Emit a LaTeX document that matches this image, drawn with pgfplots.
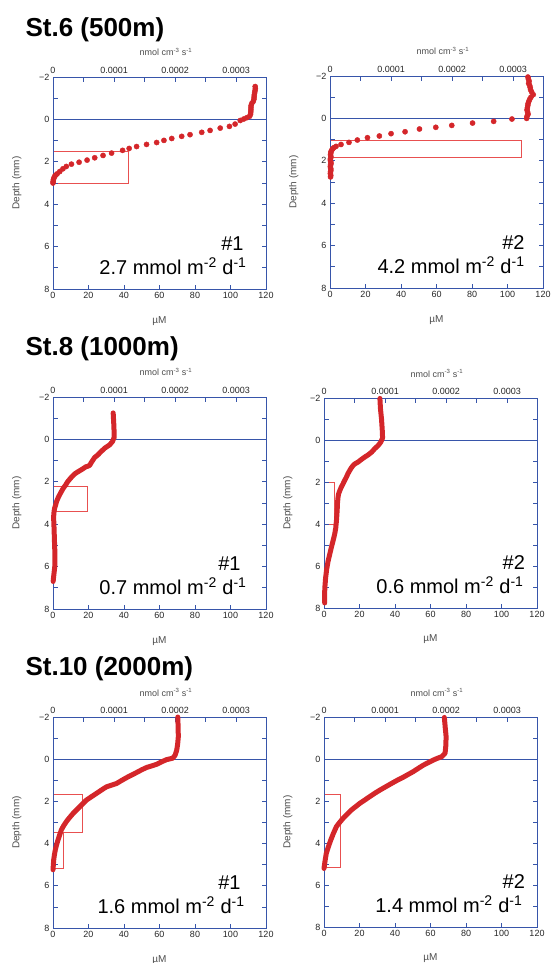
\documentclass[border=0pt]{standalone}
\usepackage{fontspec}
\setmainfont{Liberation Sans}
\usepackage{pgfplots}
\pgfplotsset{compat=1.18}

\definecolor{axisblue}{RGB}{55,85,170}
\definecolor{dotred}{RGB}{212,38,42}
\definecolor{boxred}{RGB}{232,80,80}

\newcommand{\ticks}{\fontsize{9}{10}\selectfont}
\newcommand{\lab}{\fontsize{10}{11}\selectfont}
\newcommand{\note}{\fontsize{20}{22}\selectfont}

\pgfplotsset{
  common/.style={
    scale only axis, width=213pt,
    ymin=-2, ymax=8, y dir=reverse,
    tick align=inside,
    axis line style={axisblue, line width=0.9pt},
    every tick/.style={axisblue, line width=0.8pt},
    major tick length=4.5pt, minor tick length=4.5pt,
    tick label style={font=\ticks, text=black!85},
    label style={font=\lab, text=black!70},
  },
  mainax/.style={common,
    xmin=0, xmax=120,
    xtick={0,20,...,120}, xticklabels={0,20,40,60,80,100,120},
    ytick={-2,0,2,4,6,8}, yticklabels={−2,0,2,4,6,8},
    minor ytick={-1,1,3,5,7},
    xtick pos=bottom, ytick pos=both, yticklabel pos=left,
    xlabel={µM}, ylabel={Depth (mm)},
    xlabel style={at={(axis description cs:0.5,-0.15)}, anchor=center},
    ylabel style={at={(axis description cs:-0.17,0.5)}, anchor=center},
    clip=false,
  },
  topax/.style={common,
    xmin=0, xmax=0.000349, scaled x ticks=false,
    axis x line*=top, axis y line=none,
    xtick={0,0.0001,0.0002,0.0003}, xticklabels={0,0.0001,0.0002,0.0003},
    minor xtick={0.00005,0.00015,0.00025},
    xlabel={nmol cm\textsuperscript{-3} s\textsuperscript{-1}},
    xlabel style={at={(axis description cs:0.53,1.118)}, anchor=center, font=\fontsize{9}{10}\selectfont},
  },
  rate/.style={boxred, line width=0.8pt},
  dots/.style={only marks, mark=*, mark size=2.6pt, dotred, mark options={draw=none, fill=dotred}},
  thickline/.style={dotred, line width=5pt, line cap=round, line join=round},
  zeroline/.style={axisblue, line width=0.9pt},
}

\begin{document}
\begin{tikzpicture}
\useasboundingbox (0,0) rectangle (553pt,-963pt);

% ---------- St.6 ----------
\node[anchor=base west, font=\fontsize{26}{28}\selectfont\bfseries] at (22pt,-37pt) {St.6 (500m)};

\begin{axis}[topax, height=212pt, at={(53pt,-77pt)}, anchor=north west]
\addplot[rate] coordinates {(0,-2) (0,1.51) (0.0001233,1.51) (0.0001233,3.01) (0,3.01) (0,8)};
\end{axis}
\begin{axis}[mainax, height=212pt, at={(53pt,-77pt)}, anchor=north west]
\addplot[zeroline] coordinates {(0,0) (120,0)};
\addplot[dots] coordinates {
  (113.9,-1.55) (114.0,-1.45) (113.8,-1.35) (113.6,-1.25) (113.4,-1.15) (113.3,-1.05)
  (113.2,-0.95) (112.8,-0.85) (112.0,-0.75) (111.6,-0.65) (111.5,-0.55) (111.5,-0.45)
  (111.4,-0.35) (111.3,-0.25) (110.8,-0.15) (109.2,-0.08) (107.5,-0.02) (105.5,0.05)
  (102.6,0.22) (99.4,0.33) (94.2,0.41) (88.5,0.52) (83.8,0.61) (77.2,0.72) (72.5,0.80)
  (66.9,0.90) (62.5,0.99) (58.4,1.09) (52.7,1.18) (47.1,1.28) (42.9,1.37) (39.2,1.46)
  (33.0,1.59) (28.2,1.70) (23.5,1.81) (19.2,1.92) (14.7,2.02) (10.4,2.11) (7.5,2.22)
  (5.6,2.33) (3.8,2.46) (2.3,2.57) (1.5,2.63) (0.9,2.69) (0.5,2.77) (0.2,2.85) (0.1,2.93) (0,3.0)};
\node[anchor=east, font=\note] at (axis description cs:0.911,0.215) {\#1};
\node[anchor=east, font=\note] at (axis description cs:0.925,0.108) {2.7 mmol m\textsuperscript{-2} d\textsuperscript{-1}};
\end{axis}

\begin{axis}[topax, height=212pt, at={(330pt,-76pt)}, anchor=north west]
\addplot[rate] coordinates {(0,-2) (0,1.04) (0.0003134,1.04) (0.0003134,1.84) (0,1.84) (0,8)};
\end{axis}
\begin{axis}[mainax, height=212pt, at={(330pt,-76pt)}, anchor=north west]
\addplot[zeroline] coordinates {(0,0) (120,0)};
\addplot[dots] coordinates {
  (111.5,-1.95) (111.8,-1.85) (112.2,-1.75) (111.9,-1.65) (112.5,-1.55) (112.8,-1.45)
  (113.0,-1.35) (113.6,-1.25) (114.5,-1.12) (113.2,-1.0) (112.5,-0.9) (112.0,-0.8)
  (111.6,-0.7) (111.4,-0.6) (111.2,-0.5) (111.0,-0.4) (111.3,-0.3) (111.6,-0.2)
  (111.0,-0.1) (110.8,0.0) (102.5,0.03) (92.2,0.14) (80.3,0.22) (68.6,0.33) (59.6,0.42)
  (50.4,0.50) (42.3,0.63) (34.4,0.72) (27.8,0.83) (21.1,0.91) (15.4,1.02) (10.7,1.13)
  (6.2,1.23) (3.4,1.32) (2.2,1.38) (1.5,1.43) (1.0,1.50) (0.6,1.56) (0.4,1.64)
  (0.3,1.72) (0.5,1.80) (0.3,1.88) (0.2,1.96) (0.4,2.04) (0.6,2.12) (0.3,2.20)
  (0.2,2.28) (0.4,2.36) (0.5,2.44) (0.3,2.52) (0.2,2.60) (0.4,2.68) (0.3,2.76)};
\node[anchor=east, font=\note] at (axis description cs:0.93,0.215) {\#2};
\node[anchor=east, font=\note] at (axis description cs:0.93,0.108) {4.2 mmol m\textsuperscript{-2} d\textsuperscript{-1}};
\end{axis}

% ---------- St.8 ----------
\node[anchor=base west, font=\fontsize{26}{28}\selectfont\bfseries] at (22pt,-355pt) {St.8 (1000m)};

\begin{axis}[topax, height=212pt, at={(53pt,-397pt)}, anchor=north west]
\addplot[rate] coordinates {(0,-2) (0,2.22) (0.0000558,2.22) (0.0000558,3.40) (0,3.40) (0,8)};
\end{axis}
\begin{axis}[mainax, height=212pt, at={(53pt,-397pt)}, anchor=north west]
\addplot[zeroline] coordinates {(0,0) (120,0)};
\addplot[thickline] coordinates {
  (33.9,-1.25) (34.2,-0.8) (34.4,-0.4) (34.5,-0.1) (33.5,0.1) (32.0,0.25) (29.2,0.41)
  (27.0,0.58) (25.4,0.72) (23.5,0.85) (22.6,0.96) (21.5,1.10) (20.7,1.22) (19.5,1.27)
  (18.5,1.29) (17.5,1.35) (16.0,1.43) (14.0,1.53) (12.2,1.63) (10.5,1.77) (9.4,1.88)
  (8.2,2.00) (7.2,2.14) (5.8,2.30) (4.7,2.46) (3.7,2.62) (2.8,2.77) (2.0,2.93)
  (1.5,3.09) (0.9,3.25) (0.6,3.40) (0.4,3.60) (0.4,3.80) (0.6,4.20) (0.75,4.60)
  (0.9,5.00) (1.1,5.40) (1.1,5.80) (1.0,6.00) (0.6,6.30) (0.2,6.60) (0.1,6.70)};
\node[anchor=east, font=\note] at (axis description cs:0.897,0.215) {\#1};
\node[anchor=east, font=\note] at (axis description cs:0.925,0.108) {0.7 mmol m\textsuperscript{-2} d\textsuperscript{-1}};
\end{axis}

\begin{axis}[topax, height=210pt, at={(324pt,-398pt)}, anchor=north west]
\addplot[rate] coordinates {(0,-2) (0,2.04) (0.0000164,2.04) (0.0000164,4.03) (0,4.03) (0,8)};
\end{axis}
\begin{axis}[mainax, height=210pt, at={(324pt,-398pt)}, anchor=north west]
\addplot[zeroline] coordinates {(0,0) (120,0)};
\addplot[thickline] coordinates {
  (31.5,-1.98) (31.8,-1.5) (32.4,-1.0) (32.8,-0.5) (33.0,-0.1) (32.0,0.1) (30.5,0.26)
  (28.5,0.42) (26.8,0.58) (25.0,0.70) (23.0,0.81) (21.0,0.93) (19.2,1.05) (17.5,1.13)
  (16.4,1.21) (15.2,1.35) (14.5,1.45) (13.5,1.60) (12.6,1.77) (11.6,1.93) (10.7,2.09)
  (9.7,2.25) (8.9,2.41) (8.2,2.57) (7.9,2.73) (7.6,3.00) (7.5,3.21) (7.3,3.50)
  (7.0,3.85) (6.6,4.20) (6.0,4.49) (5.1,4.80) (4.1,5.13) (3.2,5.45) (2.3,5.77)
  (1.5,6.15) (0.9,6.57) (0.5,7.00) (0.4,7.20) (0.4,7.50) (0.4,7.76)};
\node[anchor=east, font=\note] at (axis description cs:0.96,0.215) {\#2};
\node[anchor=east, font=\note] at (axis description cs:0.953,0.108) {0.6 mmol m\textsuperscript{-2} d\textsuperscript{-1}};
\end{axis}

% ---------- St.10 ----------
\node[anchor=base west, font=\fontsize{26}{28}\selectfont\bfseries] at (22pt,-675pt) {St.10 (2000m)};

\begin{axis}[topax, height=211pt, at={(53pt,-717pt)}, anchor=north west]
\addplot[rate] coordinates {(0,-2) (0,1.67) (0.0000477,1.67) (0.0000477,3.48) (0,3.48) (0,8)};
\addplot[rate] coordinates {(0,3.48) (0.0000164,3.48) (0.0000164,5.17) (0,5.17)};
\end{axis}
\begin{axis}[mainax, height=211pt, at={(53pt,-717pt)}, anchor=north west]
\addplot[zeroline] coordinates {(0,0) (120,0)};
\addplot[thickline] coordinates {
  (70.3,-2.0) (70.5,-1.5) (70.6,-1.06) (70.2,-0.7) (69.7,-0.43) (68.8,-0.19) (67.5,-0.05)
  (64.0,0.02) (61.0,0.13) (58.4,0.24) (55.5,0.32) (52.8,0.39) (50.0,0.50) (47.1,0.63)
  (44.8,0.73) (42.4,0.83) (39.0,0.99) (35.8,1.15) (33.0,1.23) (30.1,1.31) (27.3,1.46)
  (24.5,1.62) (21.6,1.78) (18.8,1.94) (16.9,2.10) (15.1,2.25) (13.2,2.41) (11.3,2.57)
  (9.4,2.76) (7.5,2.96) (6.0,3.15) (4.7,3.35) (3.7,3.60) (2.8,3.83) (2.0,4.06)
  (1.3,4.30) (0.8,4.53) (0.4,4.77) (0.2,5.00) (0,5.24)};
\node[anchor=east, font=\note] at (axis description cs:0.897,0.215) {\#1};
\node[anchor=east, font=\note] at (axis description cs:0.916,0.108) {1.6 mmol m\textsuperscript{-2} d\textsuperscript{-1}};
\end{axis}

\begin{axis}[topax, height=210pt, at={(324pt,-717pt)}, anchor=north west]
\addplot[rate] coordinates {(0,-2) (0,1.68) (0.0000273,1.68) (0.0000273,5.17) (0,5.17) (0,8)};
\end{axis}
\begin{axis}[mainax, height=210pt, at={(324pt,-717pt)}, anchor=north west]
\addplot[zeroline] coordinates {(0,0) (120,0)};
\addplot[thickline] coordinates {
  (67.8,-1.98) (68.3,-1.5) (68.8,-1.06) (68.6,-0.6) (68.2,-0.27) (66.3,-0.11) (63.5,-0.02)
  (61.6,0.05) (58.8,0.17) (56.0,0.29) (53.0,0.45) (50.3,0.60) (47.5,0.73) (44.6,0.87)
  (41.3,1.01) (38.1,1.16) (34.8,1.32) (31.5,1.48) (28.6,1.63) (25.8,1.79) (23.0,1.95)
  (20.2,2.11) (17.8,2.27) (15.4,2.43) (13.0,2.63) (10.7,2.83) (8.8,3.02) (7.0,3.22)
  (5.3,3.54) (3.8,3.86) (2.5,4.17) (1.3,4.49) (0.6,4.85) (0,5.21)};
\node[anchor=east, font=\note] at (axis description cs:0.96,0.215) {\#2};
\node[anchor=east, font=\note] at (axis description cs:0.948,0.108) {1.4 mmol m\textsuperscript{-2} d\textsuperscript{-1}};
\end{axis}
\end{tikzpicture}
\end{document}
